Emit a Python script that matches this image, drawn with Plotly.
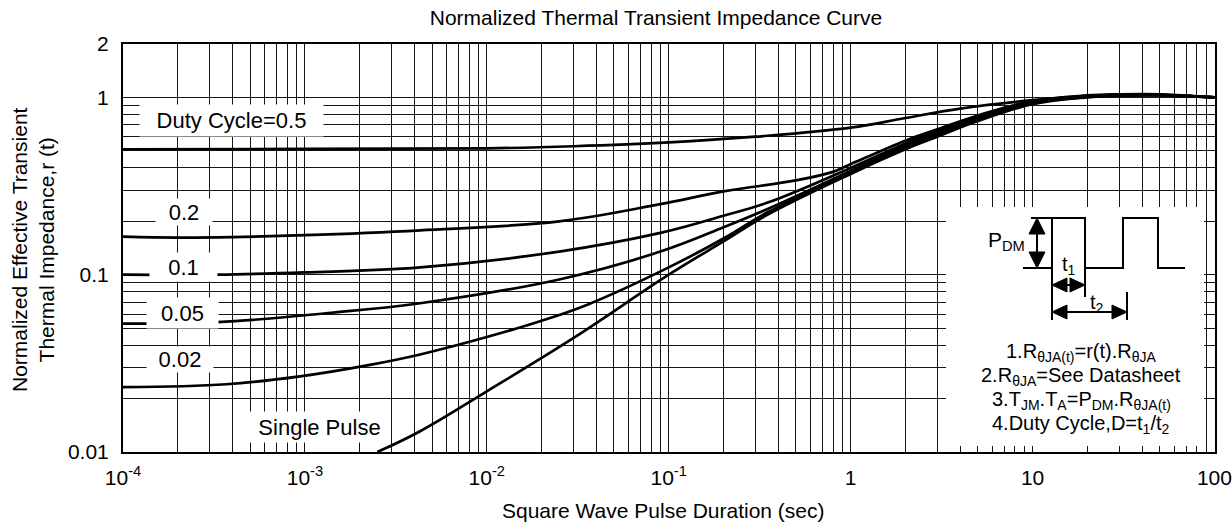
import math
import plotly.graph_objects as go

# ---------------- data ----------------
x_d05 = [1e-4, 1e-3, 1e-2, 3e-2, 0.1, 0.3, 1, 2, 4, 10, 20, 30, 50, 100]
y_d05 = [0.51, 0.512, 0.516, 0.53, 0.557, 0.60, 0.675, 0.765, 0.865, 0.965, 1.015, 1.035, 1.035, 1.0]

x_d02 = [1e-4, 2e-4, 4e-4, 1e-3, 4.3e-3, 2.5e-2, 9e-2, 0.2, 0.5, 0.8, 1, 2, 3, 5, 10, 20, 30, 50, 100]
y_d02 = [0.164, 0.162, 0.163, 0.167, 0.178, 0.20, 0.25, 0.295, 0.34, 0.38, 0.42, 0.57, 0.66, 0.79, 0.955, 1.025, 1.04, 1.04, 1.0]

x_d01 = [1e-4, 3.3e-4, 1e-3, 4.3e-3, 2.5e-2, 9e-2, 0.2, 0.35, 1, 2, 3, 5, 10, 20, 30, 50, 100]
y_d01 = [0.100, 0.100, 0.103, 0.110, 0.135, 0.172, 0.215, 0.255, 0.40, 0.55, 0.645, 0.775, 0.945, 1.02, 1.035, 1.035, 1.0]

x_d005 = [1e-4, 3.3e-4, 1.4e-3, 4.3e-3, 2.5e-2, 9e-2, 0.2, 0.35, 1, 2, 3, 5, 10, 20, 30, 50, 100]
y_d005 = [0.053, 0.054, 0.061, 0.069, 0.094, 0.135, 0.185, 0.235, 0.385, 0.535, 0.63, 0.76, 0.935, 1.01, 1.03, 1.03, 1.0]

x_d002 = [1e-4, 3.7e-4, 9.4e-4, 2.2e-3, 4.3e-3, 1e-2, 2e-2, 3.6e-2, 0.1, 0.2, 0.35, 1, 2, 3, 5, 10, 20, 30, 50, 100]
y_d002 = [0.0232, 0.0241, 0.0267, 0.0308, 0.0355, 0.0445, 0.055, 0.068, 0.11, 0.16, 0.225, 0.375, 0.525, 0.62, 0.75, 0.925, 1.005, 1.025, 1.03, 1.0]

x_single = [2.5e-3, 4.3e-3, 1e-2, 3e-2, 0.1, 0.2, 0.35, 1, 2, 3, 5, 10, 20, 30, 50, 100]
y_single = [0.0100, 0.0131, 0.022, 0.044, 0.10, 0.154, 0.218, 0.37, 0.51, 0.60, 0.735, 0.915, 1.0, 1.02, 1.025, 1.0]

series = [
    ("Duty Cycle=0.5", x_d05, y_d05),
    ("0.2", x_d02, y_d02),
    ("0.1", x_d01, y_d01),
    ("0.05", x_d005, y_d005),
    ("0.02", x_d002, y_d002),
    ("Single Pulse", x_single, y_single),
]

x_tickvals = [1e-4, 1e-3, 1e-2, 1e-1, 1, 10, 100]
x_ticktext = ["10<sup>-4</sup>", "10<sup>-3</sup>", "10<sup>-2</sup>", "10<sup>-1</sup>", "1", "10", "100"]
y_tickvals = [0.01, 0.1, 1, 2]
y_ticktext = ["0.01", "0.1", "1", "2"]

# ---------------- layout geometry ----------------
W_FIG, H_FIG = 1232, 528
L, R, T, B = 123, 17, 44, 76
PW = W_FIG - L - R
PH = H_FIG - T - B


def px(x):
    return (x - L) / PW


def py(y):
    return (H_FIG - B - y) / PH


FONT = "Liberation Sans, Arial, Helvetica, sans-serif"
INK = "#000000"
GRID = "#151515"

fig = go.Figure()
for name, xs, ys in series:
    fig.add_trace(go.Scatter(
        x=xs, y=ys, mode="lines", name=name, showlegend=False,
        line=dict(color=INK, width=2.7, shape="spline", smoothing=1.1),
        hoverinfo="x+y+name",
    ))

axis_common = dict(
    type="log", showline=True, mirror=True, linecolor=INK, linewidth=2,
    showgrid=True, gridcolor=GRID, gridwidth=1.4, ticks="", zeroline=False,
    tickfont=dict(family=FONT, size=21, color=INK),
)

fig.update_xaxes(
    **axis_common, range=[-4, 2.003], tickmode="array",
    tickvals=x_tickvals, ticktext=x_ticktext, ticklabelstandoff=6,
    minor=dict(dtick="D1", showgrid=True, gridcolor=GRID, gridwidth=1.4, ticks=""),
)
fig.update_yaxes(
    **axis_common, range=[-2, math.log10(2)], tickmode="array",
    tickvals=y_tickvals, ticktext=y_ticktext, ticklabelstandoff=8,
    minor=dict(dtick="D1", showgrid=True, gridcolor=GRID, gridwidth=1.4, ticks=""),
)

annotations = []

# axis titles
annotations.append(dict(
    xref="paper", yref="paper", x=px(33), y=py(250), xanchor="center", yanchor="middle",
    text="Normalized Effective Transient<br>Thermal Impedance,r (t)", textangle=-90,
    showarrow=False, font=dict(family=FONT, size=21, color=INK),
))
annotations.append(dict(
    xref="paper", yref="paper", x=px(663), y=py(510), xanchor="center", yanchor="middle",
    text="Square Wave Pulse Duration (sec)", showarrow=False,
    font=dict(family=FONT, size=21, color=INK),
))

# curve labels with white boxes
labels = [
    ("Duty Cycle=0.5", 231, 120, 183, 31),
    ("0.2", 184, 212, 56, 26),
    ("0.1", 183, 267, 67, 28),
    ("0.05", 182, 313, 71, 30),
    ("0.02", 180, 359, 66, 25),
    ("Single Pulse", 319, 427, 139, 30),
]
for txt, cx, cy, w, h in labels:
    annotations.append(dict(
        xref="paper", yref="paper", x=px(cx), y=py(cy), xanchor="center", yanchor="middle",
        text=txt, showarrow=False, bgcolor="white", width=w, height=h, borderpad=0,
        font=dict(family=FONT, size=22, color=INK),
    ))

# inset notes
notes = [
    ("1.R<sub>θJA(t)</sub>=r(t).R<sub>θJA</sub>", 352),
    ("2.R<sub>θJA</sub>=See Datasheet", 376),
    ("3.T<sub>JM</sub>.T<sub>A</sub>=P<sub>DM</sub>.R<sub>θJA(t)</sub>", 400),
    ("4.Duty Cycle,D=t<sub>1</sub>/t<sub>2</sub>", 424),
]
for txt, cy in notes:
    annotations.append(dict(
        xref="paper", yref="paper", x=px(1081), y=py(cy), xanchor="center", yanchor="middle",
        text=txt, showarrow=False, font=dict(family=FONT, size=20, color=INK),
    ))

annotations.append(dict(
    xref="paper", yref="paper", x=px(1027), y=py(241), xanchor="right", yanchor="middle",
    text="P<sub>DM</sub>", showarrow=False, font=dict(family=FONT, size=21, color=INK),
))
annotations.append(dict(
    xref="paper", yref="paper", x=px(1069), y=py(265), xanchor="center", yanchor="middle",
    text="t<sub>1</sub>", showarrow=False, font=dict(family=FONT, size=20, color=INK),
))
annotations.append(dict(
    xref="paper", yref="paper", x=px(1097), y=py(303), xanchor="center", yanchor="middle",
    text="t<sub>2</sub>", showarrow=False, font=dict(family=FONT, size=20, color=INK),
))


# ---------------- inset drawing (white panel, square wave, dimension arrows) ----------------
def seg_path(points, close=False):
    p = "M " + " L ".join(f"{px(a):.5f},{py(b):.5f}" for a, b in points)
    return p + (" Z" if close else "")


shapes = [
    dict(type="rect", xref="paper", yref="paper", x0=px(946), x1=px(1204), y0=py(446), y1=py(207),
         fillcolor="white", line=dict(width=0), layer="above"),
]
line_style = dict(color=INK, width=2)
wave = [(1023, 268), (1052, 268), (1052, 218), (1085, 218), (1085, 268), (1123, 268),
        (1123, 218), (1158, 218), (1158, 268), (1185, 268)]
strokes = [
    wave,
    [(1031, 218), (1052, 218)],      # P_DM upper extension
    [(1052, 268), (1052, 320)],      # t1 / t2 left extension
    [(1085, 268), (1085, 297)],      # t1 right extension
    [(1127, 292), (1127, 320)],      # t2 right extension
    [(1037, 228), (1037, 258)],      # P_DM shaft
    [(1060, 285), (1077, 285)],      # t1 shaft
    [(1062, 312), (1117, 312)],      # t2 shaft
]
for pts in strokes:
    shapes.append(dict(type="path", xref="paper", yref="paper", path=seg_path(pts),
                       line=line_style, layer="above"))

heads = [
    [(1037, 218), (1029, 234), (1045, 234)],
    [(1037, 268), (1029, 252), (1045, 252)],
    [(1052, 285), (1067, 278), (1067, 292)],
    [(1085, 285), (1070, 278), (1070, 292)],
    [(1052, 312), (1067, 305), (1067, 319)],
    [(1127, 312), (1112, 305), (1112, 319)],
]
for pts in heads:
    shapes.append(dict(type="path", xref="paper", yref="paper", path=seg_path(pts, close=True),
                       fillcolor=INK, line=dict(color=INK, width=1), layer="above"))

fig.update_layout(
    width=W_FIG, height=H_FIG,
    margin=dict(l=L, r=R, t=T, b=B, autoexpand=False),
    paper_bgcolor="white", plot_bgcolor="white",
    title=dict(text="Normalized Thermal Transient Impedance Curve", x=656 / W_FIG, xanchor="center",
               y=1 - 18 / H_FIG, yanchor="middle", font=dict(family=FONT, size=21, color=INK)),
    annotations=annotations, shapes=shapes,
    font=dict(family=FONT, color=INK),
)

fig.write_html("out.html", config={"displayModeBar": False},
               post_script="document.body.style.margin='0px';")
